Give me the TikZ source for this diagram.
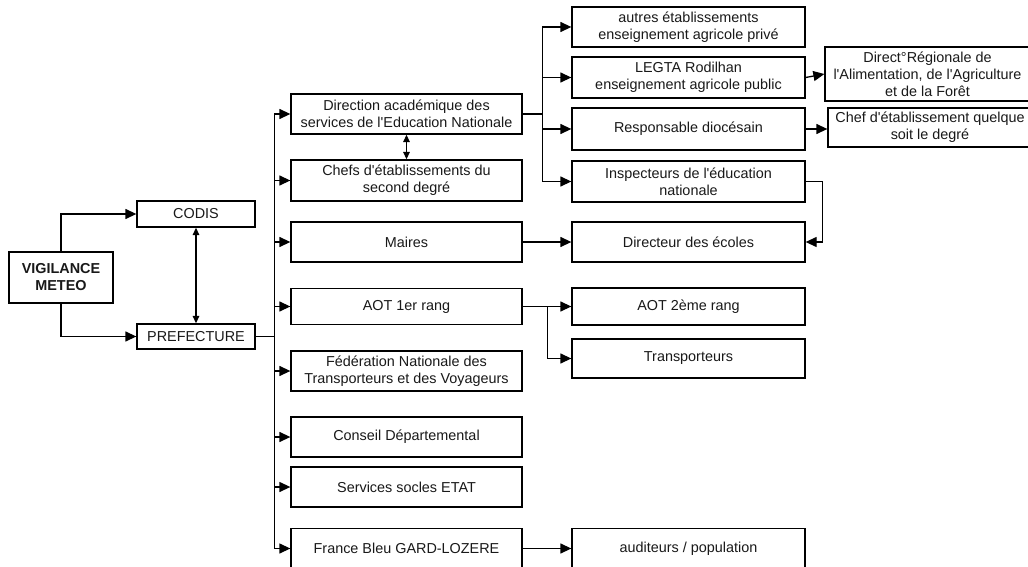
\documentclass[tikz,border=0pt]{standalone}
\usepackage{fontspec}
\setmainfont{Liberation Sans}[Ligatures=TeXOff]
\usetikzlibrary{arrows.meta}
\begin{document}
\begin{tikzpicture}[x=1pt,y=-1pt,
  box/.style={draw=black, line width=1.3pt, align=center, inner sep=0pt,
    font=\fontsize{14.4}{17}\selectfont, text=black!90},
  colw/.style={minimum width=231pt},
  colr/.style={minimum width=233pt},
  arr/.style={-{Triangle[length=11pt,width=10pt]}, line width=1.3pt},
  dbl/.style={{Triangle[length=7.5pt,width=6.5pt]}-{Triangle[length=7.5pt,width=6.5pt]}, line width=1.3pt}]
\useasboundingbox (0,0) rectangle (1028,567);
\clip (0,0) rectangle (1028,567);
\fill[white] (0,0) rectangle (1028,567);
% left
\node[box, minimum width=104pt, minimum height=51pt, font=\fontsize{14.4}{17}\selectfont\bfseries] (vig) at (61,277.5) {VIGILANCE\\METEO};
\node[box, minimum width=118pt, minimum height=26pt] (codis) at (196,214) {CODIS};
\node[box, minimum width=118pt, minimum height=25pt] (pref) at (196,336.5) {PREFECTURE};
% middle column
\node[box, colw, minimum height=40pt] (dir) at (406.5,114) {Direction académique des\\services de l'Education Nationale};
\node[box, colw, minimum height=41pt] (chefs) at (406.5,180.5) {Chefs d'établissements du\\second degré};
\node[box, colw, minimum height=40pt] (maires) at (406.5,242) {Maires};
\node[box, colw, minimum height=36pt] (aot1) at (406.5,306.5) {AOT 1er rang};
\node[box, colw, minimum height=40pt] (fed) at (406.5,371) {Fédération Nationale des\\Transporteurs et des Voyageurs};
\node[box, colw, minimum height=40pt] (cons) at (406.5,437) {Conseil Départemental};
\node[box, colw, minimum height=40pt] (serv) at (406.5,487) {Services socles ETAT};
\node[box, colw, minimum height=40pt] (fb) at (406.5,548.5) {France Bleu GARD-LOZERE};
% right column
\node[box, colr, minimum height=40pt] (autres) at (688.5,27) {autres établissements\\enseignement agricole privé};
\node[box, colr, minimum height=41pt] (legta) at (688.5,77.5) {LEGTA Rodilhan\\enseignement agricole public};
\node[box, colr, minimum height=42pt] (resp) at (688.5,129) {Responsable diocésain};
\node[box, colr, minimum height=41pt] (insp) at (688.5,181.5) {Inspecteurs de l'éducation\\nationale};
\node[box, colr, minimum height=40pt] (direc) at (688.5,242) {Directeur des écoles};
\node[box, colr, minimum height=37pt] (aot2) at (688.5,306.5) {AOT 2ème rang};
\node[box, colr, minimum height=39pt] (transp) at (688.5,358.5) {Transporteurs};
\node[box, colr, minimum height=40pt] (aud) at (688.5,548.5) {auditeurs / population};
% far right
\node[box, minimum width=205pt, minimum height=54pt] (draaf) at (927.5,74) {Direct°Régionale de\\l'Alimentation, de l'Agriculture\\et de la Forêt};
\node[box, minimum width=204pt, minimum height=39pt] (chef) at (930,127.5) {Chef d'établissement quelque\\soit le degré};
% connectors
\draw[arr] (vig.north) |- (codis.west);
\draw[arr] (vig.south) |- (pref.west);
\draw[dbl] (codis.south) -- (pref.north);
\foreach \n in {dir,chefs,maires,aot1,fed,cons,serv,fb}
  \draw[arr] (pref.east) -- ++(18.5,0) |- (\n.west);
\draw[dbl] (dir.south) -- (chefs.north);
\foreach \n in {autres,legta,resp,insp}
  \draw[arr] (dir.east) -- ++(20,0) |- (\n.west);
\draw[arr] (legta.east) -- (draaf.west);
\draw[arr] (resp.east) -- (resp.east -| chef.west);
\draw[arr] (insp.east) -- ++(17,0) |- (direc.east);
\draw[arr] (maires.east) -- (direc.west);
\draw[arr] (aot1.east) -- ++(25,0) |- (aot2.west);
\draw[arr] (aot1.east) -- ++(25,0) |- (transp.west);
\draw[arr] (fb.east) -- (aud.west);
\end{tikzpicture}
\end{document}
